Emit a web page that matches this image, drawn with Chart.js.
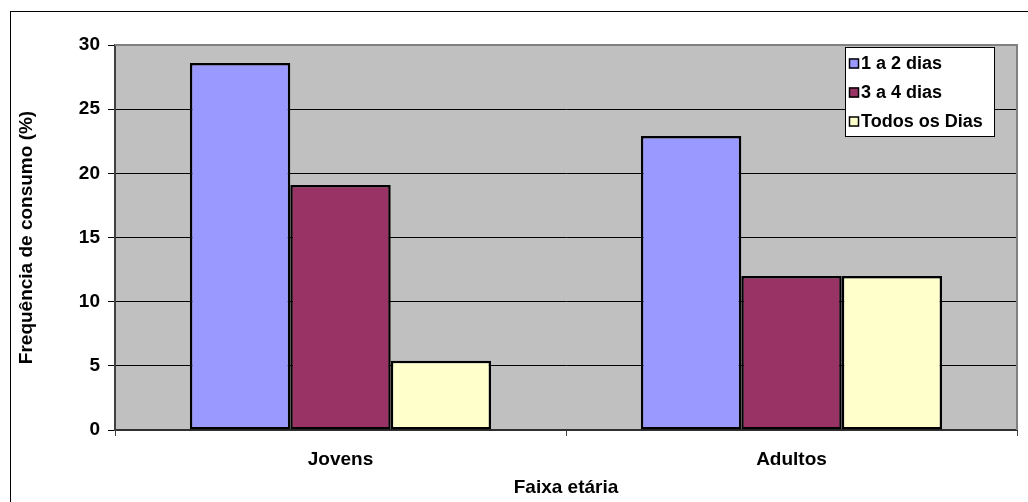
<!DOCTYPE html>
<html>
<head>
<meta charset="utf-8">
<script src="https://cdn.jsdelivr.net/npm/chart.js@4/dist/chart.umd.min.js"></script>
<style>
  html, body { margin: 0; padding: 0; background: #fff; }
  canvas { display: block; }
</style>
</head>
<body>
<canvas id="c" width="1028" height="502"></canvas>
<script>
// Age groups and the share of each consumption frequency (%)
const categories = ['Jovens', 'Adultos'];
const seriesNames = ['1 a 2 dias', '3 a 4 dias', 'Todos os Dias'];
const umADoisDias = [28.6, 22.9];
const tresAQuatroDias = [19.1, 12.0];
const todosOsDias = [5.4, 12.0];
const yTickValues = [0, 5, 10, 15, 20, 25, 30];

const seriesColors = ['#9999FF', '#993366', '#FFFFCC'];
const FONT = 'Arial, "Liberation Sans", sans-serif';

// Outer frame, grey plot area and the boxed legend
const framePlugin = {
  id: 'framePlugin',
  beforeDraw(chart) {
    const { ctx, chartArea: a } = chart;
    ctx.save();
    ctx.fillStyle = '#fff';
    ctx.fillRect(0, 0, chart.width, chart.height);
    ctx.strokeStyle = '#000';
    ctx.lineWidth = 1;
    ctx.strokeRect(10.5, 11.5, chart.width + 40, chart.height + 40);
    ctx.fillStyle = '#C0C0C0';
    ctx.fillRect(a.left, a.top, a.right - a.left, a.bottom - a.top);
    ctx.restore();
  },
  beforeDatasetsDraw(chart) {
    const { ctx, chartArea: a } = chart;
    ctx.save();
    ctx.strokeStyle = '#808080';
    ctx.lineWidth = 2;
    ctx.beginPath();
    ctx.moveTo(a.left, a.top);
    ctx.lineTo(a.right, a.top);
    ctx.lineTo(a.right, a.bottom);
    ctx.stroke();
    ctx.restore();
  },
  afterDraw(chart) {
    const { ctx } = chart;
    const box = { x: 845, y: 47, w: 150, h: 90 };
    const rowStep = 29;
    ctx.save();
    ctx.fillStyle = '#fff';
    ctx.fillRect(box.x, box.y, box.w, box.h);
    ctx.strokeStyle = '#000';
    ctx.lineWidth = 1;
    ctx.strokeRect(box.x + 0.5, box.y + 0.5, box.w - 1, box.h - 1);
    ctx.font = 'bold 18px ' + FONT;
    ctx.textBaseline = 'middle';
    ctx.textAlign = 'left';
    chart.data.datasets.forEach((ds, i) => {
      const cy = box.y + 16.5 + i * rowStep;
      ctx.fillStyle = ds.backgroundColor;
      ctx.fillRect(849, cy - 5, 10, 10);
      ctx.strokeStyle = '#000';
      ctx.lineWidth = 1.5;
      ctx.strokeRect(849.5, cy - 4.5, 9, 9);
      ctx.fillStyle = '#000';
      ctx.fillText(ds.label, 861, cy + 1);
    });
    ctx.restore();
  }
};

const seriesValues = [umADoisDias, tresAQuatroDias, todosOsDias];

new Chart(document.getElementById('c'), {
  type: 'bar',
  data: {
    labels: categories,
    datasets: seriesNames.map((name, i) => ({
      label: name,
      data: seriesValues[i],
      backgroundColor: seriesColors[i],
      borderColor: '#000',
      borderWidth: 2.5,
      borderSkipped: false,
      categoryPercentage: 0.668,
      barPercentage: 1.0
    }))
  },
  options: {
    responsive: false,
    animation: false,
    devicePixelRatio: 1,
    layout: { padding: { left: 0, top: 45, right: 11, bottom: 0 } },
    plugins: {
      legend: { display: false },
      tooltip: { enabled: false }
    },
    scales: {
      x: {
        offset: true,
        grid: {
          drawOnChartArea: false,
          drawTicks: true,
          tickLength: 6,
          tickColor: '#404040',
          offset: true
        },
        border: { color: '#303030', width: 2 },
        ticks: {
          color: '#000',
          font: { family: FONT, size: 19, weight: 'bold' },
          padding: 12
        },
        title: {
          display: true,
          text: 'Faixa etária',
          color: '#000',
          font: { family: FONT, size: 19, weight: 'bold' },
          padding: { top: 0, bottom: 3 }
        },
        afterFit(scale) { scale.height = 72; }
      },
      y: {
        min: 0,
        max: 30,
        afterBuildTicks(scale) {
          scale.ticks = yTickValues.map(v => ({ value: v }));
        },
        grid: {
          color: '#000',
          lineWidth: 1,
          drawTicks: true,
          tickLength: 7,
          tickColor: '#000'
        },
        border: { color: '#404040', width: 2 },
        ticks: {
          color: '#000',
          font: { family: FONT, size: 19, weight: 'bold' },
          padding: 8
        },
        title: {
          display: true,
          text: 'Frequência de consumo (%)',
          color: '#000',
          font: { family: FONT, size: 19, weight: 'bold' },
          padding: { top: 15, bottom: 0 }
        },
        afterFit(scale) { scale.width = 115; }
      }
    }
  },
  plugins: [framePlugin]
});
</script>
</body>
</html>
